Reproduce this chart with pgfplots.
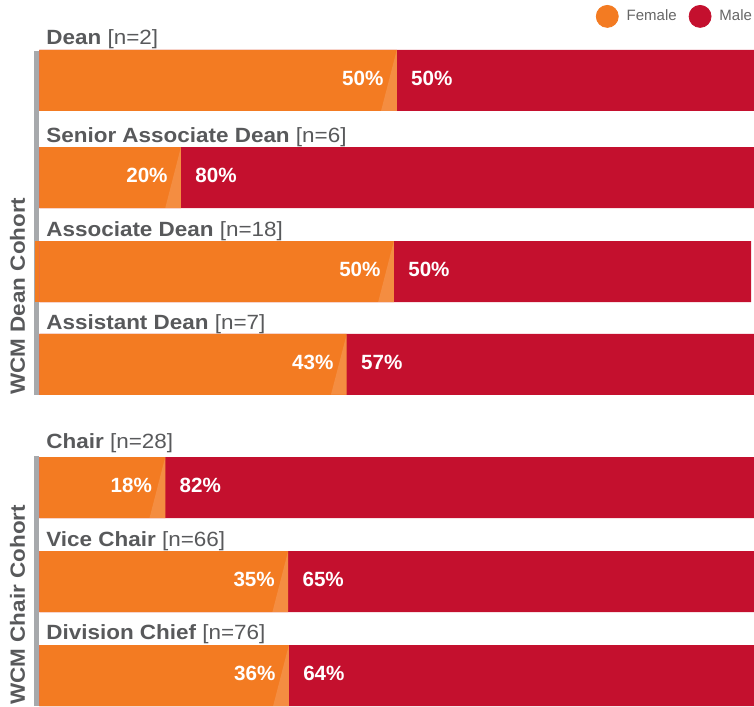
\documentclass[border=0pt]{standalone}
\usepackage{pgfplots}
\pgfplotsset{compat=1.18}
\usepackage{pgfplotstable}
\usepackage{fontspec}
\setmainfont{Liberation Sans}[FakeStretch=1.09]
\newfontfamily\plainfont{Liberation Sans}
\definecolor{forange}{RGB}{243,123,34}
\definecolor{mred}{RGB}{196,16,46}
\definecolor{tgrey}{RGB}{88,89,91}
\definecolor{lgrey}{RGB}{102,102,102}
\definecolor{gbar}{RGB}{167,169,172}

\pgfplotstableread{
y f m fl ml
80.5 50.0 50.0 50 50
177.5 19.8 80.2 20 80
271.5 49.6 50.0 50 50
364.25 43.0 57.0 43 57
487.5 17.6 82.4 18 82
581.5 34.8 65.2 35 65
675.5 34.9 65.1 36 64
}\data

\newcommand{\lblfont}{\fontsize{10.3}{12}\selectfont}

\begin{document}
\begin{tikzpicture}
\begin{axis}[name=ax, scale only axis, width=377pt, height=353pt,
  xmin=-5.528, xmax=100, ymin=0, ymax=706, y dir=reverse,
  hide axis, clip=false,
  /pgf/number format/assume math mode=true,
  legend columns=2,
  legend style={at={(axis description cs:1,1)}, anchor=north east, xshift=-1pt, yshift=-2.5pt,
    draw=none, fill=none, inner sep=0pt, outer sep=0pt,
    font=\plainfont\fontsize{7.5}{9}\selectfont, text=lgrey,
    nodes={inner sep=0pt},
    /tikz/every odd column/.append style={column sep=4pt},
    /tikz/every even column/.append style={column sep=6pt}},
  legend cell align=left,
]
\addlegendimage{legend image code/.code={\fill[forange] (5.5pt,0pt) circle (5.5pt);}}
\addlegendentry{Female}
\addlegendimage{legend image code/.code={\fill[mred] (5.5pt,0pt) circle (5.5pt);}}
\addlegendentry{Male}

% cohort grey bars
\addplot[fill=gbar, draw=none, forget plot] coordinates {(-0.77,51)(0,51)(0,394.5)(-0.77,394.5)};
\addplot[fill=gbar, draw=none, forget plot] coordinates {(-0.77,456)(0,456)(0,706)(-0.77,706)};

% male (total) bars
\addplot[xbar, bar width=61, bar shift=0pt, fill=mred, draw=none, forget plot]
  table[x expr=\thisrow{f}+\thisrow{m}, y=y] {\data};
% female bars
\addplot[xbar, bar width=61, bar shift=0pt, fill=forange, draw=none, forget plot]
  table[x=f, y=y] {\data};
\addplot[fill=forange, draw=none, forget plot] coordinates {(-0.63,241)(0,241)(0,302)(-0.63,302)};

% light wedges at the boundary
\addplot[fill=white, fill opacity=0.14, draw=none, forget plot] coordinates {(50,50)(50,111)(47.8,111)};
\addplot[fill=white, fill opacity=0.14, draw=none, forget plot] coordinates {(19.8,147)(19.8,208)(17.6,208)};
\addplot[fill=white, fill opacity=0.14, draw=none, forget plot] coordinates {(49.6,241)(49.6,302)(47.4,302)};
\addplot[fill=white, fill opacity=0.14, draw=none, forget plot] coordinates {(43.0,334)(43.0,394.5)(40.8,394.5)};
\addplot[fill=white, fill opacity=0.14, draw=none, forget plot] coordinates {(17.6,457)(17.6,518)(15.4,518)};
\addplot[fill=white, fill opacity=0.14, draw=none, forget plot] coordinates {(34.8,551)(34.8,612)(32.6,612)};
\addplot[fill=white, fill opacity=0.14, draw=none, forget plot] coordinates {(34.9,645)(34.9,706)(32.7,706)};

% percentage labels
\addplot[draw=none, forget plot, nodes near coords={\pgfmathprintnumber{\pgfplotspointmeta}\%},
  point meta=\thisrow{fl},
  nodes near coords style={anchor=east, xshift=-6.5pt, yshift=1pt, text=white, font=\plainfont\bfseries\lblfont, inner sep=0pt}]
  table[x=f, y=y] {\data};
\addplot[draw=none, forget plot, nodes near coords={\pgfmathprintnumber{\pgfplotspointmeta}\%},
  point meta=\thisrow{ml},
  nodes near coords style={anchor=west, xshift=7pt, yshift=1pt, text=white, font=\plainfont\bfseries\lblfont, inner sep=0pt}]
  table[x=f, y=y] {\data};

% category labels
\addplot[draw=none, forget plot, nodes near coords, point meta=explicit symbolic,
  nodes near coords style={anchor=base west, inner sep=0pt, text=tgrey, font=\lblfont}]
  coordinates {
  (0.91,44.5) [\textbf{Dean} {[}n=2{]}]
  (0.91,142.5) [\textbf{Senior Associate Dean} {[}n=6{]}]
  (0.91,236.5) [\textbf{Associate Dean} {[}n=18{]}]
  (0.91,329.5) [\textbf{Assistant Dean} {[}n=7{]}]
  (0.91,448) [\textbf{Chair} {[}n=28{]}]
  (0.91,546) [\textbf{Vice Chair} {[}n=66{]}]
  (0.91,639.5) [\textbf{Division Chief} {[}n=76{]}]
  };

\node[rotate=90, anchor=base west, inner sep=0pt, font=\bfseries\lblfont, text=tgrey] at (axis cs:-2.03,395) {WCM Dean Cohort};
\node[rotate=90, anchor=base west, inner sep=0pt, font=\bfseries\lblfont, text=tgrey] at (axis cs:-2.03,705) {WCM Chair Cohort};
\end{axis}
\pgfresetboundingbox
\useasboundingbox (ax.south west) rectangle (ax.north east);
\end{tikzpicture}
\end{document}
